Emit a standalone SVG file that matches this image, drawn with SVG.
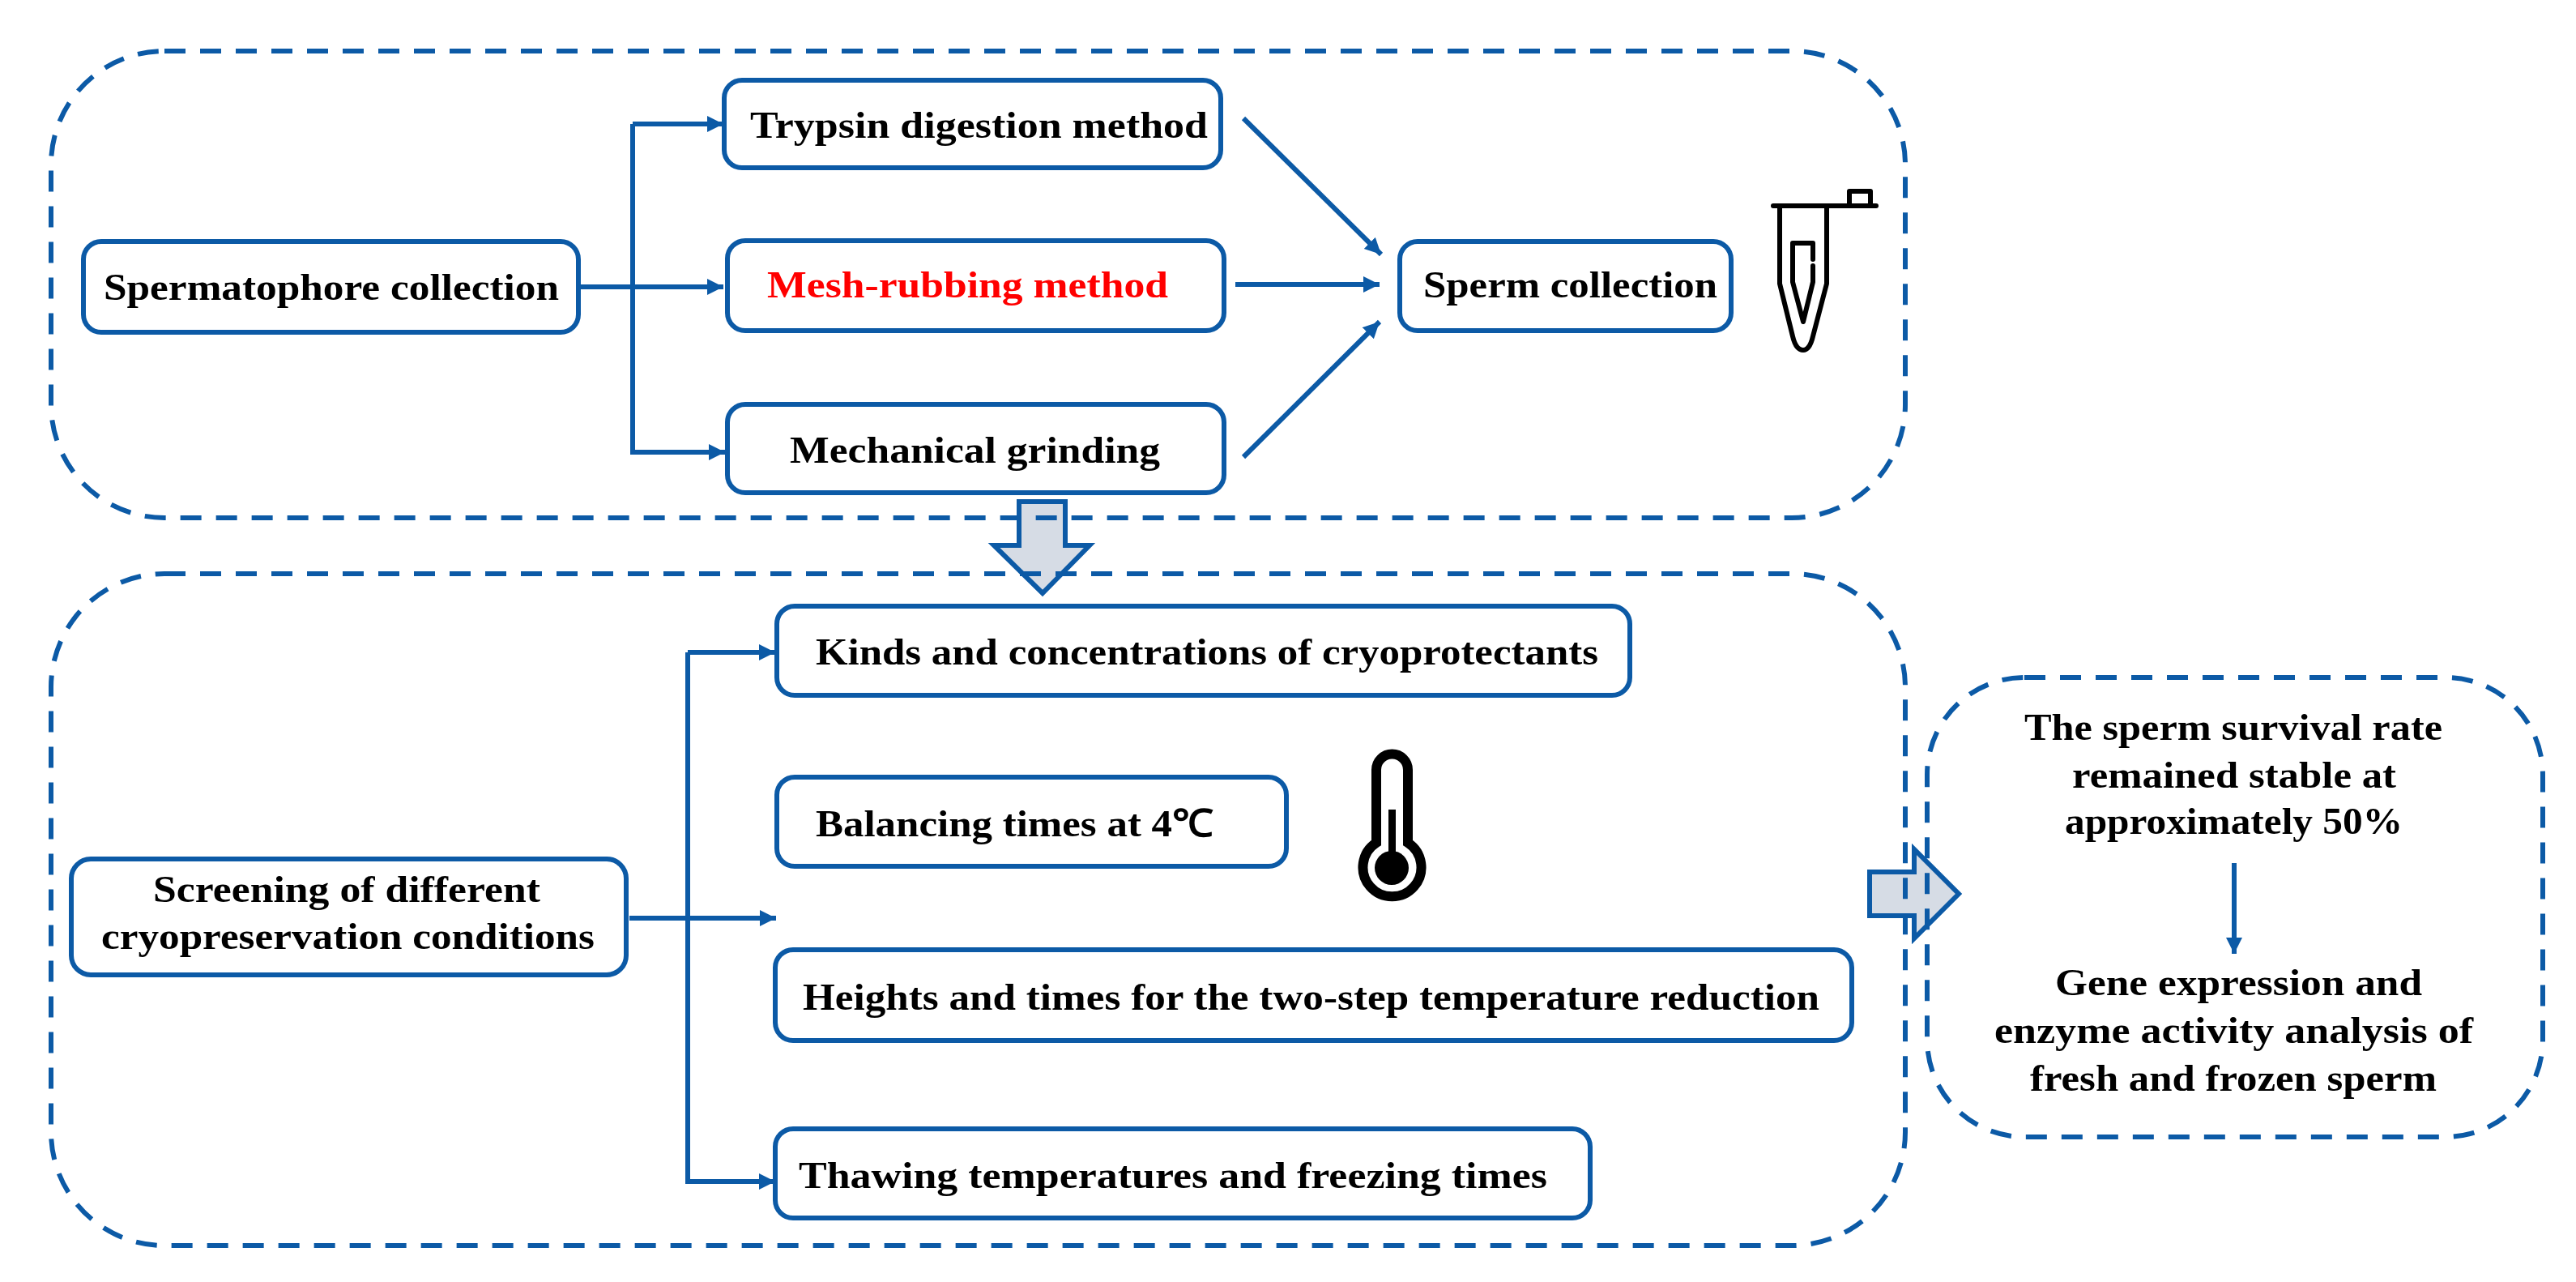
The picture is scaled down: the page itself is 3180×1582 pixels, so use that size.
<svg xmlns="http://www.w3.org/2000/svg" width="3180" height="1582" viewBox="0 0 3180 1582">
<style>
.box{fill:#fff;stroke:#0c5aa6;stroke-width:6}
.dash{fill:none;stroke:#0c5aa6;stroke-width:6;stroke-dasharray:26 18}
.line{fill:none;stroke:#0c5aa6;stroke-width:6}
.big{fill:#d6dce5;stroke:#0c5aa6;stroke-width:6}
.ic{fill:none;stroke:#000;stroke-width:6;stroke-linejoin:round;stroke-linecap:round}
text{font-family:"Liberation Serif","Times New Roman",serif;font-weight:bold;font-size:47px;fill:#000}
</style>
<defs>
<marker id="ah" markerUnits="userSpaceOnUse" markerWidth="22" markerHeight="22" refX="20" refY="10" orient="auto"><path d="M0,0L20,10L0,20Z" fill="#0c5aa6"/></marker>
</defs>
<rect width="3180" height="1582" fill="#fff"/>
<g id="big-arrows">
<path class="big" d="M1258,619H1315V673H1345L1287,732L1227,673H1258Z"/>
<path class="big" d="M2308,1076H2363V1048L2418,1103L2363,1158V1130H2308Z"/>
</g>
<g id="groups">
<rect id="group-top" class="dash" x="63" y="63" width="2289" height="576" rx="140"/>
<rect id="group-bottom" class="dash" x="63" y="708" width="2289" height="829" rx="140"/>
<rect id="group-right" class="dash" x="2379" y="836" width="760" height="567" rx="120"/>
</g>
<g id="connectors">
<path class="line" d="M714,354H893" marker-end="url(#ah)"/>
<path class="line" d="M781,153H893" marker-end="url(#ah)"/>
<path class="line" d="M781,153V558H895" marker-end="url(#ah)"/>
<path class="line" d="M1535,146L1705,314" marker-end="url(#ah)"/>
<path class="line" d="M1525,351H1703" marker-end="url(#ah)"/>
<path class="line" d="M1535,564L1703,397" marker-end="url(#ah)"/>
<path class="line" d="M849,805H957" marker-end="url(#ah)"/>
<path class="line" d="M849,805V1458H957" marker-end="url(#ah)"/>
<path class="line" d="M777,1133H958" marker-end="url(#ah)"/>
<path class="line" d="M2758,1065V1177" marker-end="url(#ah)"/>
</g>
<g id="spermatophore"><rect class="box" x="103" y="298" width="611" height="112" rx="22"/><text x="128" y="370" textLength="562" lengthAdjust="spacingAndGlyphs">Spermatophore collection</text></g>
<g id="trypsin"><rect class="box" x="894" y="99" width="613" height="108" rx="22"/><text x="926" y="170" textLength="565" lengthAdjust="spacingAndGlyphs">Trypsin digestion method</text></g>
<g id="mesh"><rect class="box" x="898" y="297" width="613" height="111" rx="22"/><text x="947" y="367" textLength="495" lengthAdjust="spacingAndGlyphs" style="fill:#f00">Mesh-rubbing method</text></g>
<g id="mechanical"><rect class="box" x="898" y="499" width="613" height="109" rx="22"/><text x="975" y="571" textLength="457" lengthAdjust="spacingAndGlyphs">Mechanical grinding</text></g>
<g id="sperm"><rect class="box" x="1728" y="298" width="409" height="110" rx="22"/><text x="1757" y="367" textLength="363" lengthAdjust="spacingAndGlyphs">Sperm collection</text></g>
<g id="tube">
<path class="ic" d="M2189,254H2316M2283,254V236H2309V254"/>
<path class="ic" d="M2197,254V350L2213,415Q2217,432 2226,432Q2234,432 2238,415L2255,350V254"/>
<path class="ic" d="M2238,320V300H2213V348L2226,397L2238,348V328"/>
</g>
<g id="kinds"><rect class="box" x="959" y="748" width="1053" height="110" rx="22"/><text x="1007" y="820" textLength="966" lengthAdjust="spacingAndGlyphs">Kinds and concentrations of cryoprotectants</text></g>
<g id="balancing"><rect class="box" x="959" y="959" width="629" height="110" rx="22"/><text x="1007" y="1032" textLength="491" lengthAdjust="spacingAndGlyphs">Balancing times at 4℃</text></g>
<g id="thermometer">
<path d="M1699,1040V950a19.5,19.5 0 0 1 39,0V1040A36,36 0 1 1 1699,1040Z" fill="none" stroke="#000" stroke-width="12"/>
<circle cx="1718" cy="1071" r="21"/>
<rect x="1714" y="999" width="9" height="60"/>
</g>
<g id="heights"><rect class="box" x="957" y="1172" width="1329" height="112" rx="22"/><text x="991" y="1246" textLength="1255" lengthAdjust="spacingAndGlyphs">Heights and times for the two-step temperature reduction</text></g>
<g id="thawing"><rect class="box" x="957" y="1393" width="1006" height="110" rx="22"/><text x="986" y="1466" textLength="924" lengthAdjust="spacingAndGlyphs">Thawing temperatures and freezing times</text></g>
<g id="screening"><rect class="box" x="88" y="1060" width="685" height="143" rx="24"/><text x="189" y="1113" textLength="478" lengthAdjust="spacingAndGlyphs">Screening of different</text><text x="125" y="1171" textLength="609" lengthAdjust="spacingAndGlyphs">cryopreservation conditions</text></g>
<g id="result-text">
<text x="2499" y="913" textLength="516" lengthAdjust="spacingAndGlyphs">The sperm survival rate</text>
<text x="2558" y="972" textLength="400" lengthAdjust="spacingAndGlyphs">remained stable at</text>
<text x="2549" y="1029" textLength="417" lengthAdjust="spacingAndGlyphs">approximately 50%</text>
<text x="2537" y="1228" textLength="453" lengthAdjust="spacingAndGlyphs">Gene expression and</text>
<text x="2462" y="1287" textLength="591" lengthAdjust="spacingAndGlyphs">enzyme activity analysis of</text>
<text x="2506" y="1346" textLength="502" lengthAdjust="spacingAndGlyphs">fresh and frozen sperm</text>
</g>
</svg>
